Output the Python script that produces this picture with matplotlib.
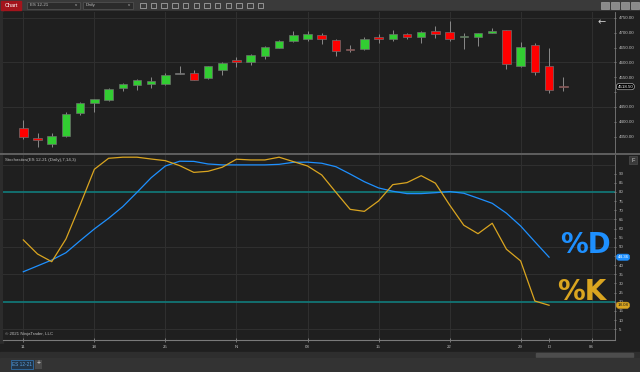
import matplotlib.pyplot as plt
import matplotlib.transforms as mtransforms
from matplotlib.patches import Rectangle

# ------------------------------
# Data (ES 12-21 daily, Oct 11 - Dec 2)
# ------------------------------
opens = [4378, 4347, 4324, 4351, 4431, 4463.5, 4474.5, 4515, 4524, 4528.5,
         4526.5, 4564, 4563.5, 4548, 4576, 4608.5, 4603, 4621, 4650, 4671.5,
         4678, 4692.5, 4676, 4645.5, 4645.5, 4686, 4680, 4697, 4685, 4706,
         4703, 4687, 4687, 4700.5, 4708.5, 4588, 4658, 4587, 4520]
highs = [4406, 4361, 4361, 4434, 4466, 4477, 4515, 4530, 4544, 4550,
         4563.5, 4588, 4574.5, 4589, 4601.5, 4617.5, 4628.5, 4656.5, 4676, 4707,
         4706, 4700.5, 4679, 4659, 4685, 4696, 4709.5, 4700.5, 4706, 4723,
         4741, 4700.5, 4699.5, 4715.5, 4708.5, 4668, 4667, 4650, 4550]
lows = [4341, 4314, 4316, 4349, 4424, 4434, 4470, 4503, 4507, 4515,
        4524, 4560, 4541, 4543.5, 4558, 4586, 4591.5, 4613, 4648, 4668,
        4673.5, 4663.5, 4623, 4636.5, 4642, 4667, 4671.5, 4678, 4667, 4683.5,
        4673.5, 4646.5, 4656.5, 4700.5, 4577, 4586, 4557, 4496, 4505]
closes = [4348, 4339, 4352, 4427.5, 4462.5, 4476, 4509.5, 4526.5, 4541, 4536.5,
          4557, 4564, 4542, 4587, 4597.5, 4603, 4624.5, 4652.5, 4673.5, 4691.5,
          4696, 4678, 4640, 4642, 4678, 4678, 4697, 4687, 4703, 4695,
          4679, 4690, 4699.5, 4706, 4595, 4651, 4567, 4507.5, 4518.5]

# Stochastics(7,14,3), calculated on bar close
stoch_k = [53.8, 46.1, 41.9, 54.3, 73.0, 92.4, 98.4, 99.0, 99.0, 98.0,
           97.1, 94.4, 90.7, 91.3, 93.5, 97.9, 97.5, 97.5, 99.0, 96.6,
           94.2, 89.3, 79.8, 70.5, 69.4, 75.1, 84.0, 85.1, 88.9, 84.8,
           72.9, 61.8, 57.2, 62.9, 48.7, 42.3, 20.4, 18.08]
stoch_d = [36.4, 39.6, 42.8, 46.8, 53.4, 59.8, 65.6, 72.0, 79.8, 87.8,
           94.2, 96.8, 96.7, 95.3, 94.8, 94.8, 94.8, 94.8, 95.1, 96.2,
           96.3, 95.7, 93.8, 89.8, 85.6, 82.2, 80.4, 79.1, 79.1, 79.6,
           80.2, 79.3, 76.6, 73.8, 68.4, 61.4, 52.8, 44.36]

tick_pos = [0, 5, 10, 15, 20, 25, 30, 35, 37, 40]
tick_lbl = ['11', '18', '25', 'N', '08', '15', '22', '29', 'D', '06']
week_pos = [0, 5, 10, 15, 20, 25, 30, 35, 40]

price_ticks = [4350, 4400, 4450, 4500, 4550, 4600, 4650, 4700, 4750]
price_grid = [4450, 4600, 4750]
stoch_ticks = list(range(5, 95, 5))
stoch_grid = [5, 35, 50, 65, 95]
stoch_levels = [20, 80]

# ------------------------------
# Colours
# ------------------------------
BG = '#1f1f1f'
GRID = '#2f2f2f'
TXT = '#bdbdbd'
UP = '#32cd32'
DOWN = '#ff0000'
K_COL = '#daa520'
D_COL = '#1e90ff'
LEVEL = '#127575'

W, H = 640, 372
fig = plt.figure(figsize=(W / 100, H / 100), dpi=100, facecolor='#2a2a2a')
plt.rcParams['font.family'] = ['Liberation Sans', 'DejaVu Sans']


def fr(x0, y0, x1, y1):
    # pixel box (top-left origin) -> figure fraction
    return [x0 / W, 1 - y1 / H, (x1 - x0) / W, (y1 - y0) / H]


# ------------------------------
# Window chrome (toolbar, scrollbar, tabs)
# ------------------------------
ui = fig.add_axes([0, 0, 1, 1], zorder=0)
ui.set_xlim(0, W)
ui.set_ylim(H, 0)
ui.axis('off')

ui.add_patch(Rectangle((0, 0), W, 11, color='#3a3a3a'))
ui.add_patch(Rectangle((0, 11), W, 333, color=BG))
ui.add_patch(Rectangle((0, 11), 3, 333, color='#2c2c2c'))
ui.add_patch(Rectangle((0, 344), W, 8, color=BG))
ui.add_patch(Rectangle((0, 352), W, 6, color='#2e2e2e'))
ui.add_patch(Rectangle((536, 353), 97, 4, color='#4d4d4d'))
ui.add_patch(Rectangle((0, 358), W, 14, color='#333333'))
ui.add_patch(Rectangle((11, 359.5), 22, 9, fc='#223548', ec='#2f6ea8', lw=0.6))
ui.text(22, 364, 'ES 12-21', color='#5aa0e0', fontsize=3.4, ha='center', va='center')
ui.add_patch(Rectangle((35, 359.5), 7, 9, fc='#4a4a4a'))
ui.text(38.5, 364, '+', color='#dddddd', fontsize=5, ha='center', va='center')

ui.add_patch(Rectangle((1, 1), 20, 8.5, color='#a3141c'))
ui.text(11, 5.3, 'Chart', color='white', fontsize=4, ha='center', va='center')
ui.add_patch(Rectangle((27, 1.5), 53, 7.5, fc='#2b2b2b', ec='#555555', lw=0.5))
ui.text(30, 5.3, 'ES 12-21', color=TXT, fontsize=3.2, va='center')
ui.text(76, 5.3, 'v', color=TXT, fontsize=3.2, ha='center', va='center')
ui.add_patch(Rectangle((83, 1.5), 50, 7.5, fc='#2b2b2b', ec='#555555', lw=0.5))
ui.text(86, 5.3, 'Daily', color=TXT, fontsize=3.2, va='center')
ui.text(129, 5.3, 'v', color=TXT, fontsize=3.2, ha='center', va='center')
for ix in range(12):
    ui.add_patch(Rectangle((140 + ix * 10.7, 2.5), 5.5, 5.5, fc='none', ec='#b5b5b5', lw=0.5))
for ix in range(4):
    ui.add_patch(Rectangle((600.5 + ix * 10, 1.5), 8, 7, fc='#8a8a8a', ec='#b0b0b0', lw=0.4))

# ------------------------------
# Price panel
# ------------------------------
ax_p = fig.add_axes(fr(3, 12, 615, 153), zorder=1)
ax_s = fig.add_axes(fr(3, 155, 615, 340), zorder=1, sharex=ax_p)

for ax in (ax_p, ax_s):
    ax.set_facecolor(BG)
    for s in ax.spines.values():
        s.set_visible(False)
    ax.yaxis.tick_right()
    ax.tick_params(axis='y', colors='#9a9a9a', labelcolor=TXT, labelsize=3.2,
                   length=2, width=0.5, pad=1.5, direction='inout')
    for xp in week_pos:
        ax.axvline(xp, color=GRID, lw=0.8, zorder=0)

ax_p.set_xlim(-1.43, 41.64)
ax_p.set_ylim(4295, 4770)
ax_p.set_yticks(price_ticks)
# the last-price marker covers the 4500 label, as on the platform
ax_p.set_yticklabels([f'{v:.2f}' if abs(v - closes[-1]) > 25 else '' for v in price_ticks])
ax_p.tick_params(axis='x', length=0, labelbottom=False)
for yv in price_grid:
    ax_p.axhline(yv, color=GRID, lw=0.8, zorder=0)
ax_p.spines['right'].set_visible(True)
ax_p.spines['right'].set_color('#7a7a7a')
ax_p.spines['right'].set_linewidth(0.6)

for i in range(len(opens)):
    o, h, l, c = opens[i], highs[i], lows[i], closes[i]
    ax_p.vlines(i, l, h, color='#8a8a8a', lw=0.7, zorder=2)
    if c > o:
        col = UP
    elif c < o:
        col = DOWN
    else:
        col = '#9a9a9a'
    bottom = min(o, c)
    height = max(abs(c - o), 3)
    if abs(c - o) < 3:
        bottom = (o + c) / 2 - 1.5
    ax_p.bar(i, height, bottom=bottom, width=0.6, color=col,
             edgecolor='#6e6e6e', linewidth=0.5, zorder=3)

tr_p = mtransforms.blended_transform_factory(ax_p.transAxes, ax_p.transData)
ax_p.text(1.004, closes[-1], f'{closes[-1]:.2f}', transform=tr_p, fontsize=3.2,
          color='white', va='center', ha='left', zorder=5, clip_on=False,
          bbox=dict(boxstyle='round,pad=0.25,rounding_size=0.6', fc='black',
                    ec='#cfcfcf', lw=0.4))
ax_p.text(0.978, 0.93, '\u2190', transform=ax_p.transAxes, color='#cfcfcf',
          fontsize=7, ha='center', va='center', family='DejaVu Sans')

# ------------------------------
# Stochastics panel
# ------------------------------
ax_s.set_ylim(-0.9, 100.2)
ax_s.set_yticks(stoch_ticks)
# the %D marker hides the 45 label
ax_s.set_yticklabels([str(v) if abs(v - stoch_d[-1]) > 2 else '' for v in stoch_ticks])
for yv in stoch_grid:
    ax_s.axhline(yv, color=GRID, lw=0.8, zorder=0)
for yv in stoch_levels:
    ax_s.axhline(yv, color=LEVEL, lw=1.3, zorder=1)
ax_s.spines['right'].set_visible(True)
ax_s.spines['right'].set_color('#7a7a7a')
ax_s.spines['right'].set_linewidth(0.6)
ax_s.spines['bottom'].set_visible(True)
ax_s.spines['bottom'].set_color('#7a7a7a')
ax_s.spines['bottom'].set_linewidth(0.8)

xs = list(range(len(stoch_k)))
ax_s.plot(xs, stoch_d, color=D_COL, lw=0.9, zorder=3)
ax_s.plot(xs, stoch_k, color=K_COL, lw=0.9, zorder=3)

ax_s.set_xticks(tick_pos)
ax_s.set_xticklabels(tick_lbl)
ax_s.tick_params(axis='x', colors='#9a9a9a', labelcolor=TXT, labelsize=3.2,
                 length=2.5, width=0.5, pad=2.5, direction='inout')

tr_s = mtransforms.blended_transform_factory(ax_s.transAxes, ax_s.transData)
ax_s.text(1.004, stoch_d[-1], f'{stoch_d[-1]:.2f}', transform=tr_s, fontsize=3.2,
          color='white', va='center', ha='left', zorder=5, clip_on=False,
          bbox=dict(boxstyle='round,pad=0.25,rounding_size=0.6', fc=D_COL, ec=D_COL, lw=0.4))
ax_s.text(1.004, stoch_k[-1], f'{stoch_k[-1]:.2f}', transform=tr_s, fontsize=3.2,
          color='#1a1a1a', va='center', ha='left', zorder=5, clip_on=False,
          bbox=dict(boxstyle='round,pad=0.25,rounding_size=0.6', fc=K_COL, ec=K_COL, lw=0.4))

ax_s.text(0.004, 0.975, 'Stochastics(ES 12-21 (Daily),7,14,3)', transform=ax_s.transAxes,
          color=TXT, fontsize=3.2, va='center', ha='left')
ax_s.text(0.004, 0.03, '\u00a9 2021 NinjaTrader, LLC', transform=ax_s.transAxes,
          color=TXT, fontsize=3.2, va='center', ha='left')

# panel separator and "F" button
ui_top = fig.add_axes([0, 0, 1, 1], zorder=3)
ui_top.set_xlim(0, W)
ui_top.set_ylim(H, 0)
ui_top.axis('off')
ui_top.patch.set_alpha(0)
ui_top.plot([0, W], [153.8, 153.8], color='#6a6a6a', lw=1.2)
ui_top.add_patch(Rectangle((629, 156), 8, 8, fc='#3a3a3a', ec='#555555', lw=0.4))
ui_top.text(633, 160.3, 'F', color='#cfcfcf', fontsize=4, ha='center', va='center')

# big %D / %K labels
fig.text(560 / W, 1 - 245 / H, '%D', color=D_COL, fontsize=20, fontweight='bold',
         family='DejaVu Sans', ha='left', va='center', zorder=6)
fig.text(557 / W, 1 - 291.5 / H, '%K', color=K_COL, fontsize=20, fontweight='bold',
         family='DejaVu Sans', ha='left', va='center', zorder=6)

fig.savefig('out.png', dpi=100, facecolor=fig.get_facecolor())
